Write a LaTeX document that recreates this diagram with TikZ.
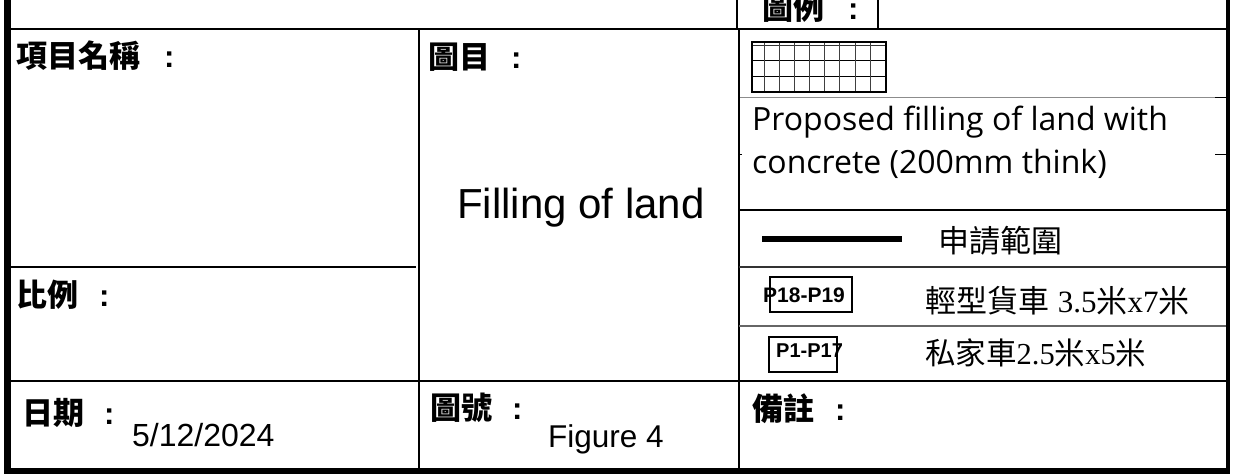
\documentclass[tikz,border=0pt]{standalone}
\usepackage{fontspec}
\setmainfont{Liberation Sans}
\newfontfamily\cjk{Noto Sans CJK TC}
\newfontfamily\sego{Open Sans}
\newfontfamily\tms{Liberation Serif}
\newcommand{\fs}[1]{\fontsize{#1}{#1}\selectfont}
\newcommand{\hdr}[2]{{\cjk\bfseries #1}\hspace{#2}{\bfseries :}}
\begin{document}
\begin{tikzpicture}[x=1pt,y=-1pt,
  lbl/.style={anchor=west,inner sep=0pt,font=\fs{31}},
  txt/.style={inner sep=0pt},
  frame/.style={line width=#1,black},
  grayline/.style={line width=1pt,black!45},
  tagbox/.style={draw,line width=1.3pt}]
\useasboundingbox (0,0) rectangle (1235,475);
\fill[white] (0,0) rectangle (1235,475);
% coordinates
\coordinate (TL) at (7.5,-5);
\coordinate (BL) at (7.5,471);
\coordinate (TR) at (1228,-5);
\coordinate (BR) at (1228,471);
% outer frame
\draw[frame=7pt] (TL) -- (BL);
\draw[frame=4.5pt] (TR) -- (BR);
\draw[frame=6pt] (4,471) -- (1230.2,471);
% top row
\draw[frame=2pt] (11,29) -- (1226,29);
\draw[frame=1.5pt] (737,-2) -- (737,29);
\draw[frame=1.5pt] (878,-2) -- (878,29);
% main columns
\draw[frame=2pt] (419,29) -- (419,471);
\draw[frame=2pt] (739,29) -- (739,471);
\draw[frame=1.6pt] (11,267) -- (416,267);
\draw[frame=2pt] (11,381) -- (1226,381);
% legend rows
\draw[grayline] (740,97) -- (1215,97);
\draw[frame=1pt] (1215,97) -- (1226,97);
\draw[frame=1pt] (738,154) -- (742,154);
\draw[frame=1pt] (1215,154) -- (1226,154);
\draw[frame=1.3pt] (739,210) -- (1226,210);
\draw[frame=1.3pt,black!80] (739,267) -- (1226,267);
\draw[frame=1.2pt,black!60] (739,326) -- (1226,326);
% hatch legend box
\draw[line width=1pt,black!80] (752,45) -- (886,45);
\foreach \yy in {60,76}{\draw[line width=1pt] (752,\yy) -- (886,\yy);}
\foreach \xx in {764,779,794,809,824,839,855,870}{\draw[line width=1pt,black!75] (\xx,42) -- (\xx,92);}
\draw[line width=1.5pt] (752,42) rectangle (886,92);
% boundary line sample
\coordinate (bs) at (762,239);
\coordinate (be) at (902,239);
\draw[line width=6.5pt] (bs) -- (be);
% header texts
\node[lbl] (hlegend) at (762,8) {\hdr{圖例}{24pt}};
\node[lbl] (hproj) at (16,56) {\hdr{項目名稱}{24pt}};
\node[lbl] (htitle) at (428,57) {\hdr{圖目}{21pt}};
\node[lbl] (hscale) at (16,295) {\hdr{比例}{21pt}};
\node[lbl] (hdate) at (22,413) {\hdr{日期}{20pt}};
\node[lbl] (hno) at (430,408) {\hdr{圖號}{20pt}};
\node[lbl] (hnote) at (752,409) {\hdr{備註}{21pt}};
% contents
\node[txt,anchor=base west,font=\fs{42}] (title) at (457,218) {Filling of land};
\node[txt,anchor=base west,font=\fs{32}] (date) at (132,446) {5/12/2024};
\node[txt,anchor=base west,font=\fs{31.5}] (figno) at (548,447) {Figure 4};
\node[txt,anchor=base west,font=\sego\fs{32}] (fill1) at (752,130) {Proposed filling of land with};
\node[txt,anchor=base west,font=\sego\fs{32}] (fill2) at (752,173) {concrete (200mm think)};
\node[txt,anchor=west,font=\cjk\fs{31}] (apply) at (938,241) {申請範圍};
% vehicle tags
\node[tagbox,minimum width=82pt,minimum height=35pt,inner sep=0pt] (box18) at (811,294.5) {};
\node[txt,anchor=west,font=\bfseries\fs{21}] (t18) at (763,295) {P18-P19};
\node[txt,anchor=west,font=\fs{31}] (lgv) at (925,301) {{\cjk 輕型貨車} {\tms 3.5}{\cjk 米}{\tms x7}{\cjk 米}};
\node[tagbox,minimum width=68pt,minimum height=35pt,inner sep=0pt] (box1) at (803,354.5) {};
\node[txt,anchor=west,font=\bfseries\fs{20}] (t1) at (776,351) {P1-P17};
\node[txt,anchor=west,font=\fs{30.5}] (pc) at (925,353) {{\cjk 私家車}{\tms 2.5}{\cjk 米}{\tms x5}{\cjk 米}};
\end{tikzpicture}
\end{document}
